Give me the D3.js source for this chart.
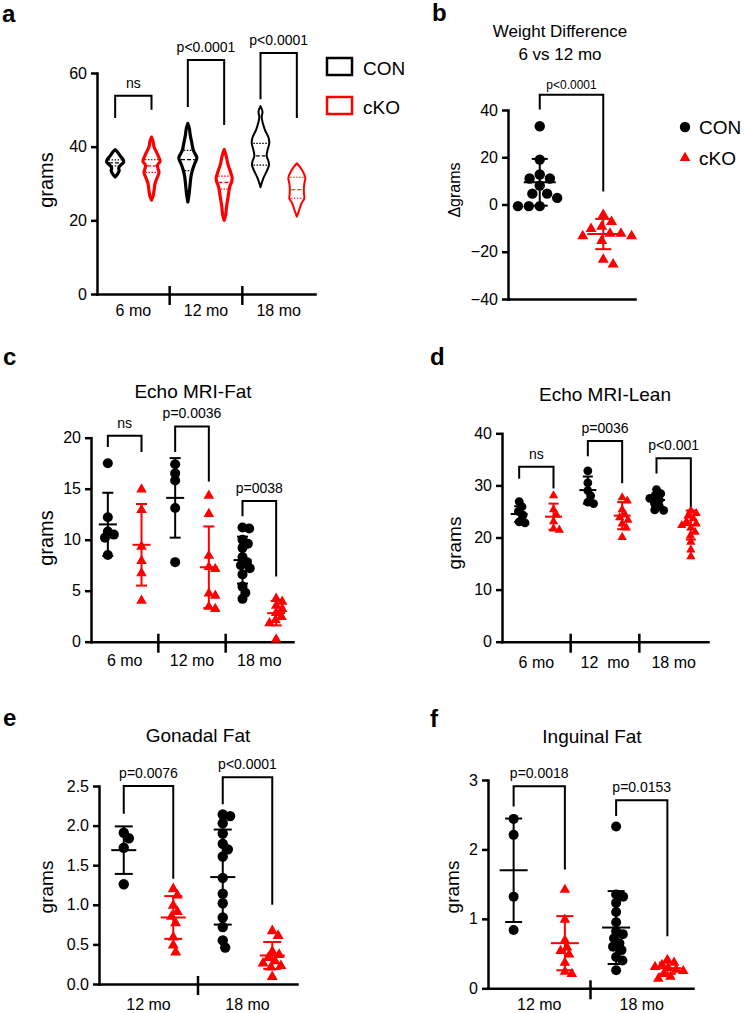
<!DOCTYPE html>
<html><head><meta charset="utf-8">
<script src="https://cdn.jsdelivr.net/npm/d3@7"></script>
<style>
body{margin:0;background:#fff}
svg text{font-family:"Liberation Sans",Arial,Helvetica,sans-serif;white-space:pre}
</style>
</head><body>
<svg id="fig" width="749" height="1013"></svg>
<script>
// ================= DATA =================
const series = ["CON", "cKO"];
const ages3 = ["6 mo", "12 mo", "18 mo"];
const ages3d = ["6 mo", "12  mo", "18 mo"];
const ages2 = ["12 mo", "18 mo"];

// Panel a: violin profiles [grams, relative density], quartiles [q1, median, q3]
const violinCON = [
  [[39.2,0],[38.5,0.25],[37.5,0.5],[36.5,0.8],[35.8,0.85],[35,0.55],[34.2,0.35],[33.5,0.4],[32.6,0.25],[31.8,0]],
  [[46.3,0],[45,0.15],[43,0.25],[41,0.4],[39,0.55],[37,0.9],[35.5,0.7],[34,0.5],[32,0.32],[29,0.2],[27,0.12],[25,0]],
  [[51,0],[49.5,0.2],[48,0.12],[46.5,0.22],[44.5,0.45],[42.5,0.8],[41,0.88],[39,0.7],[37.5,0.62],[36,0.8],[35,0.85],[33.5,0.65],[31.5,0.3],[29,0]]
];
const violinCKO = [
  [[42.6,0],[41.5,0.15],[40,0.25],[38.5,0.5],[37,0.75],[36,0.85],[35,0.6],[34,0.65],[33,0.75],[31.5,0.55],[30,0.35],[28,0.25],[26.5,0.15],[25.5,0]],
  [[39.2,0],[37.5,0.2],[35,0.4],[33,0.65],[31.5,0.8],[30.5,0.75],[29,0.55],[26.5,0.4],[24,0.25],[21.5,0.15],[20,0]],
  [[35.5,0],[34.5,0.3],[33,0.65],[31.5,0.85],[30,0.75],[28.5,0.7],[27,0.72],[26,0.75],[24.5,0.45],[22.5,0.2],[21,0]]
];
const quartCON = [[34.8,35.6,36.4],[33.5,36.5,39.0],[35.0,37.5,40.9]];
const quartCKO = [[33.0,34.8,36.5],[28.5,30.3,32.0],[26.0,28.3,31.7]];
const ticksA = [0,20,40,60];
const bracketsA = [[0,53.8,47.8,50.0,"ns"],[1,63.5,50.8,45.9,"p<0.0001"],[2,65.4,52.9,47.8,"p<0.0001"]];

// Panel b: weight difference 6 vs 12 mo
const diffCON = [33.1,19.0,12.7,11.0,11.0,8.0,4.6,4.6,2.8,-0.7,-0.7,-0.7];
const diffCKO = [-4,-7,-9,-10,-12,-12,-13,-13,-15,-23,-25];
const diffMean = [9.4,-12.5];
const diffSD = [9.9,6.4];
const ticksB = [-40,-20,0,20,40];
const bracketsB = [[0,46.5,40.2,5.5,"p<0.0001"]];

// Panel c: Echo MRI-Fat
const fatCON = [[17.5,12.2,10.8,10.5,10.2,8.5],[17.4,16.5,15.8,13.1,7.8],[11.2,11.1,10.0,9.6,9.2,8.3,7.8,7.5,7.2,6.6,5.4,4.8,4.2]];
const fatCKO = [[15,13,9.4,8,6.8,4.1],[14.4,12.6,8.5,7.4,7.2,4.8,4.6,3.5,3.3],[4.3,4.0,3.6,3.3,2.9,2.5,2.2,1.9,0.3]];
const fatMeanCON = [11.5,14.1,8.0], fatSDCON = [3.1,3.9,2.3];
const fatMeanCKO = [9.5,7.3,2.8], fatSDCKO = [4.0,4.0,1.2];
const ticksC = [0,5,10,15,20];
const bracketsC = [[0,20.2,19.1,18.6,"ns"],[1,21.1,18.6,15.7,"p=0.0036"],[2,13.8,12.3,6.4,"p=0038"]];

// Panel d: Echo MRI-Lean
const leanCON = [[26.9,25.9,25.0,24.3,23.0,22.8],[32.8,30.5,29.0,28.0,26.8,26.5],[29.2,28.4,28.0,27.5,27.2,26.6,26.0,25.3,25.2]];
const leanCKO = [[28.2,25.5,24.5,23.2,21.8,21.6],[27.8,27.2,25.5,24.5,24.0,23.5,22.8,22.0,20.2],[25.3,24.8,24.3,23.8,23.2,22.8,22.5,22.0,21.2,20.5,19.3,17.8,16.5]];
const leanMeanCON = [24.5,29.1,27.2], leanSDCON = [1.5,2.6,1.3];
const leanMeanCKO = [24.0,24.2,22.4], leanSDCKO = [2.5,2.6,2.8];
const ticksD = [0,10,20,30,40];
const bracketsD = [[0,33.6,31.3,29.4,"ns"],[1,38.5,35.6,30.4,"p=0036"],[2,35.2,32.3,25.9,"p<0.001"]];

// Panel e: Gonadal Fat
const gonCON = [[1.91,1.84,1.72,1.26],[2.14,2.12,2.03,1.9,1.77,1.70,1.61,1.34,1.14,1.02,0.84,0.72,0.55,0.46]];
const gonCKO = [[1.21,1.13,1.0,0.92,0.86,0.78,0.6,0.5,0.41],[0.68,0.62,0.42,0.38,0.34,0.30,0.27,0.24,0.22,0.10]];
const gonMeanCON = [1.69,1.35], gonSDCON = [0.30,0.60];
const gonMeanCKO = [0.84,0.36], gonSDCKO = [0.27,0.17];
const ticksE = [0,0.5,1,1.5,2,2.5];
const bracketsE = [[0,2.5,2.15,1.33,"p=0.0076"],[1,2.61,2.27,1.0,"p<0.0001"]];

// Panel f: Inguinal Fat
const ingCON = [[2.44,2.21,1.32,0.84],[2.33,1.35,1.32,1.23,1.1,0.95,0.82,0.78,0.72,0.65,0.6,0.55,0.45,0.4,0.26]];
const ingCKO = [[1.43,1.0,0.7,0.6,0.55,0.5,0.38,0.25,0.22],[0.42,0.38,0.35,0.32,0.3,0.28,0.26,0.22,0.18,0.15]];
const ingMeanCON = [1.70,0.875], ingSDCON = [0.745,0.525];
const ingMeanCKO = [0.65,0.29], ingSDCKO = [0.39,0.08];
const ticksF = [0,1,2,3];
const bracketsF = [[0,2.91,2.62,1.71,"p=0.0018"],[1,2.71,2.48,0.75,"p=0.0153"]];

// ================= DRAWING =================
const FONT = '"Liberation Sans", Arial, Helvetica, sans-serif';
const RED = "#ff0000";
const colorOf = s => s === "CON" ? "#000" : RED;
const svg = d3.select("#fig");

function scales(L, groups, yDomain) {
  const y = d3.scaleLinear().domain(yDomain).range([L.yBottom, L.yTop]);
  const x0 = d3.scaleBand().domain(groups).range([L.xLeft, L.xRight]);
  const x1 = d3.scalePoint().domain(series).range([0, x0.bandwidth()]).padding(0.5);
  return {x0, x1, y, cx: (g, s) => x0(g) + x1(s)};
}

function axes(g, L, sc, ticks, fmt, groups, showX) {
  const ya = g.append("g").attr("transform", `translate(${L.xLeft},0)`)
    .call(d3.axisLeft(sc.y).tickValues(ticks).tickSize(6).tickSizeOuter(0).tickPadding(4).tickFormat(fmt));
  ya.attr("font-family", FONT).attr("font-size", 16);
  ya.select(".domain").attr("stroke-width", 2.5).attr("stroke-linecap", "square");
  ya.selectAll(".tick line").attr("stroke-width", 2.5);
  ya.selectAll(".tick text").attr("fill", "#000");
  const xa = g.append("g").attr("transform", `translate(0,${L.yBottom})`)
    .call(d3.axisBottom(sc.x0).tickSize(0).tickSizeOuter(0).tickPadding(showX ? L.labelBase - L.yBottom - 11.4 : 0)
      .tickValues(showX ? groups : []));
  xa.attr("font-family", FONT).attr("font-size", 16);
  xa.select(".domain").attr("stroke-width", 2.5).attr("stroke-linecap", "square");
  xa.selectAll(".tick text").attr("fill", "#000");
  if (showX) {
    g.selectAll(".divider").data(groups.slice(1)).join("line").attr("class", "divider")
      .attr("x1", d => sc.x0(d)).attr("x2", d => sc.x0(d))
      .attr("y1", L.yBottom - 8).attr("y2", L.yBottom + 11)
      .attr("stroke", "#000").attr("stroke-width", 2.5);
  }
}

function brackets(g, sc, groups, data, size, off) {
  data.forEach(([gi, top, lb, rb, label]) => {
    const xl = sc.cx(groups[gi], "CON"), xr = sc.cx(groups[gi], "cKO");
    g.append("path").attr("fill", "none").attr("stroke", "#000").attr("stroke-width", 2)
      .attr("d", `M${xl},${sc.y(lb)}V${sc.y(top)}H${xr}V${sc.y(rb)}`);
    g.append("text").attr("x", (xl + xr) / 2).attr("y", sc.y(top) - off)
      .attr("text-anchor", "middle").attr("font-size", size).text(label);
  });
}

function swarm(vals, y, cx, dmin) {
  const pts = vals.map(v => ({v, y: y(v), x: cx}));
  const order = pts.slice().sort((a, b) => a.y - b.y);
  const placed = [];
  for (const p of order) {
    const near = placed.filter(q => Math.abs(q.y - p.y) < dmin);
    const cands = [0];
    near.forEach(q => {
      const dx = Math.sqrt(dmin * dmin - (q.y - p.y) ** 2);
      cands.push(q.x - cx + dx, q.x - cx - dx);
    });
    cands.sort((a, b) => Math.abs(a) - Math.abs(b) || b - a);
    for (const c of cands) {
      if (near.every(q => (q.x - cx - c) ** 2 + (q.y - p.y) ** 2 >= dmin * dmin - 0.05)) { p.x = cx + c; break; }
    }
    placed.push(p);
  }
  return pts;
}

function points(g, sc, groups, valsBySeries, r, spread) {
  series.forEach((s, si) => {
    const sym = d3.symbol().type(si === 0 ? d3.symbolCircle : d3.symbolTriangle)
      .size(si === 0 ? Math.PI * r * r : 1.95 * r * r);
    groups.forEach((grp, gi) => {
      const pts = swarm(valsBySeries[si][gi], sc.y, sc.cx(grp, s), spread * r);
      g.selectAll(null).data(pts).join("path")
        .attr("transform", d => `translate(${d.x},${d.y + (si === 1 ? 0.8 : 0)})`)
        .attr("d", sym).attr("fill", colorOf(s));
    });
  });
}

function errorBars(g, sc, groups, means, sds, mh, ch) {
  series.forEach((s, si) => {
    groups.forEach((grp, gi) => {
      const cx = sc.cx(grp, s), m = means[si][gi], sd = sds[si][gi];
      const yt = sc.y(m + sd), yb = sc.y(m - sd), ym = sc.y(m);
      const col = colorOf(s);
      const eg = g.append("g").attr("stroke", col).attr("stroke-width", 2);
      eg.append("line").attr("x1", cx).attr("x2", cx).attr("y1", yt).attr("y2", yb);
      eg.append("line").attr("x1", cx - ch).attr("x2", cx + ch).attr("y1", yt).attr("y2", yt);
      eg.append("line").attr("x1", cx - ch).attr("x2", cx + ch).attr("y1", yb).attr("y2", yb);
      eg.append("line").attr("x1", cx - mh).attr("x2", cx + mh).attr("y1", ym).attr("y2", ym);
    });
  });
}

function yTitle(g, x, y, text, size) {
  g.append("text").attr("transform", `translate(${x},${y}) rotate(-90)`)
    .attr("text-anchor", "middle").attr("font-size", size).text(text);
}
function title(g, x, y, text, size) {
  g.append("text").attr("x", x).attr("y", y).attr("text-anchor", "middle").attr("font-size", size).text(text);
}
function letter(x, y, t) {
  svg.append("text").attr("x", x).attr("y", y).attr("font-size", 24).attr("font-weight", "bold").text(t);
}

// ---------- Panel a ----------
(function () {
  const L = {xLeft: 97, xRight: 315, yBottom: 294, yTop: 73, labelBase: 316};
  const g = svg.append("g");
  const sc = scales(L, ages3, [0, 60]);
  axes(g, L, sc, ticksA, d3.format("d"), ages3, true);
  const w = d3.scaleLinear().domain([0, 1]).range([0, 10]);
  const profiles = [violinCON, violinCKO], quarts = [quartCON, quartCKO];
  series.forEach((s, si) => {
    ages3.forEach((grp, gi) => {
      const cx = sc.cx(grp, s), prof = profiles[si][gi];
      const area = d3.area().curve(d3.curveCatmullRom.alpha(0.5))
        .y(d => sc.y(d[0])).x0(d => cx - w(d[1])).x1(d => cx + w(d[1]));
      g.append("path").attr("d", area(prof)).attr("fill", "#fff")
        .attr("stroke", colorOf(s)).attr("stroke-width", gi < 2 ? 3.2 : 2).attr("stroke-linejoin", "round");
      const dens = v => {
        for (let i = 0; i < prof.length - 1; i++) {
          const [a, da] = prof[i], [b, db] = prof[i + 1];
          if (v <= a && v >= b) return da + (db - da) * (a - v) / (a - b);
        }
        return 0;
      };
      quarts[si][gi].forEach((q, qi) => {
        const hw = Math.max(w(dens(q)) - 1.5, 1);
        g.append("line").attr("x1", cx - hw).attr("x2", cx + hw).attr("y1", sc.y(q)).attr("y2", sc.y(q))
          .attr("stroke", colorOf(s)).attr("stroke-width", 1.2)
          .attr("stroke-dasharray", qi === 1 ? "4,2" : "1.5,1.5");
      });
    });
  });
  brackets(g, sc, ages3, bracketsA, 14, 8);
  yTitle(g, 53, 180, "grams", 20);
  // legend
  const lg = svg.append("g");
  series.forEach((s, i) => {
    lg.append("rect").attr("x", 327).attr("y", 58 + i * 39).attr("width", 25).attr("height", 17)
      .attr("fill", "#fff").attr("stroke", colorOf(s)).attr("stroke-width", 2.5);
    lg.append("text").attr("x", 363).attr("y", 75 + i * 39).attr("font-size", 19).text(s);
  });
  letter(2, 22, "a");
})();

// ---------- Panel b ----------
(function () {
  const L = {xLeft: 508, xRight: 635, yBottom: 299, yTop: 110};
  const g = svg.append("g");
  const groups = ["6 vs 12 mo"];
  const sc = scales(L, groups, [-40, 40]);
  axes(g, L, sc, ticksB, d3.format("d"), groups, false);
  points(g, sc, groups, [[diffCON], [diffCKO]], 5.2, 2.1);
  errorBars(g, sc, groups, [[diffMean[0]], [diffMean[1]]], [[diffSD[0]], [diffSD[1]]], 16, 8);
  brackets(g, sc, groups, bracketsB, 12, 6);
  yTitle(g, 460, 190, "Δgrams", 16);
  title(g, 560, 37, "Weight Difference", 17);
  title(g, 560, 60, "6 vs 12 mo", 17);
  const lg = svg.append("g");
  series.forEach((s, i) => {
    lg.append("path").attr("transform", `translate(685,${127 + i * 31})`)
      .attr("d", d3.symbol().type(i === 0 ? d3.symbolCircle : d3.symbolTriangle).size(i === 0 ? 85 : 50))
      .attr("fill", colorOf(s));
    lg.append("text").attr("x", 699).attr("y", 134 + i * 31).attr("font-size", 19).text(s);
  });
  letter(432, 21, "b");
})();

// ---------- Panel c ----------
(function () {
  const L = {xLeft: 91, xRight: 293, yBottom: 641.7, yTop: 437.7, labelBase: 666};
  const g = svg.append("g");
  const sc = scales(L, ages3, [0, 20]);
  axes(g, L, sc, ticksC, d3.format("d"), ages3, true);
  points(g, sc, ages3, [fatCON, fatCKO], 5, 1.35);
  errorBars(g, sc, ages3, [fatMeanCON, fatMeanCKO], [fatSDCON, fatSDCKO], 9, 5.5);
  brackets(g, sc, ages3, bracketsC, 14, 8);
  yTitle(g, 53, 538, "grams", 20);
  title(g, 193, 398, "Echo MRI-Fat", 19);
  letter(3, 365, "c");
})();

// ---------- Panel d ----------
(function () {
  const L = {xLeft: 502, xRight: 708, yBottom: 641.7, yTop: 433.3, labelBase: 668};
  const g = svg.append("g");
  const sc = scales(L, ages3d, [0, 40]);
  axes(g, L, sc, ticksD, d3.format("d"), ages3d, true);
  points(g, sc, ages3d, [leanCON, leanCKO], 4.4, 1.35);
  errorBars(g, sc, ages3d, [leanMeanCON, leanMeanCKO], [leanSDCON, leanSDCKO], 8.5, 5);
  brackets(g, sc, ages3d, bracketsD, 14, 8);
  yTitle(g, 461, 543, "grams", 19);
  title(g, 605, 401, "Echo MRI-Lean", 19);
  letter(430, 365, "d");
})();

// ---------- Panel e ----------
(function () {
  const L = {xLeft: 99, xRight: 297, yBottom: 984, yTop: 786, labelBase: 1010};
  const g = svg.append("g");
  const sc = scales(L, ages2, [0, 2.5]);
  axes(g, L, sc, ticksE, d3.format(".1f"), ages2, true);
  points(g, sc, ages2, [gonCON, gonCKO], 5.2, 1.45);
  errorBars(g, sc, ages2, [gonMeanCON, gonMeanCKO], [gonSDCON, gonSDCKO], 12.5, 9);
  brackets(g, sc, ages2, bracketsE, 14, 8);
  yTitle(g, 53, 887, "grams", 19);
  title(g, 198, 742, "Gonadal Fat", 19);
  letter(3, 726, "e");
})();

// ---------- Panel f ----------
(function () {
  const L = {xLeft: 488, xRight: 693, yBottom: 988.3, yTop: 780, labelBase: 1010};
  const g = svg.append("g");
  const sc = scales(L, ages2, [0, 3]);
  axes(g, L, sc, ticksF, d3.format("d"), ages2, true);
  points(g, sc, ages2, [ingCON, ingCKO], 5, 1.45);
  errorBars(g, sc, ages2, [ingMeanCON, ingMeanCKO], [ingSDCON, ingSDCKO], 14, 8.5);
  brackets(g, sc, ages2, bracketsF, 14, 8);
  yTitle(g, 459, 887, "grams", 19);
  title(g, 592, 743, "Inguinal Fat", 19);
  letter(430, 727, "f");
})();
</script>
</body></html>
